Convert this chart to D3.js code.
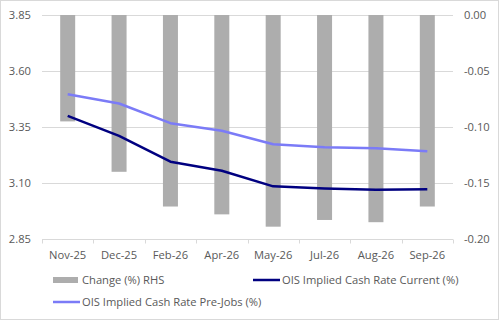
<!DOCTYPE html>
<html>
<head>
<meta charset="utf-8">
<script src="https://cdn.jsdelivr.net/npm/d3@7"></script>
<style>
  html, body { margin: 0; padding: 0; background: #fff; }
  svg text { font-family: "Open Sans", "Liberation Sans", sans-serif; font-size: 11.2px; fill: #595959; }
</style>
</head>
<body>
<div id="chart"></div>
<script>
// months on the category axis
var months = ["Nov-25", "Dec-25", "Feb-26", "Apr-26", "May-26", "Jul-26", "Aug-26", "Sep-26"];
// OIS implied cash rate, current pricing (%)
var current = [3.40, 3.31, 3.195, 3.155, 3.085, 3.075, 3.07, 3.072];
// OIS implied cash rate before the jobs data (%)
var preJobs = [3.496, 3.455, 3.367, 3.333, 3.273, 3.26, 3.255, 3.242];
// change between the two, plotted on the right axis
var change = [-0.095, -0.14, -0.171, -0.178, -0.189, -0.183, -0.185, -0.171];

var leftTicks = [2.85, 3.10, 3.35, 3.60, 3.85];
var rightTicks = [-0.20, -0.15, -0.10, -0.05, 0.00];

var width = 499, height = 321;
var margin = {top: 15, right: 46, bottom: 82, left: 42};

var svg = d3.select("#chart").append("svg")
    .attr("width", width)
    .attr("height", height);

// outer chart border
svg.append("rect")
    .attr("x", 0.5).attr("y", 0.5)
    .attr("width", width - 1).attr("height", height - 2)
    .attr("fill", "#fff")
    .attr("stroke", "#d9d9d9");

var x = d3.scaleBand()
    .domain(months)
    .range([margin.left, width - margin.right]);

var yL = d3.scaleLinear()
    .domain([2.85, 3.85])
    .range([height - margin.bottom, margin.top]);

var yR = d3.scaleLinear()
    .domain([-0.20, 0.00])
    .range([height - margin.bottom, margin.top]);

// gridlines
svg.append("g")
    .selectAll("line")
    .data(leftTicks.slice(1))
    .join("line")
    .attr("x1", margin.left).attr("x2", width - margin.right)
    .attr("y1", d => Math.round(yL(d)) + 0.5)
    .attr("y2", d => Math.round(yL(d)) + 0.5)
    .attr("stroke", "#d9d9d9");

// change bars hang from zero on the right axis
var barW = 15;
svg.append("g")
    .selectAll("rect")
    .data(change)
    .join("rect")
    .attr("x", (d, i) => x(months[i]) + x.bandwidth() / 2 - barW / 2)
    .attr("y", yR(0))
    .attr("width", barW)
    .attr("height", d => yR(d) - yR(0))
    .attr("fill", "#adadad");

// category axis
var xAxis = svg.append("g")
    .attr("transform", "translate(0," + (Math.round(yL(2.85)) + 0.5) + ")");
xAxis.append("line")
    .attr("x1", margin.left).attr("x2", width - margin.right)
    .attr("stroke", "#d9d9d9");
xAxis.selectAll(".tick")
    .data(months.concat([null]))
    .join("line")
    .attr("x1", (d, i) => Math.round(margin.left + i * x.step()) + 0.5)
    .attr("x2", (d, i) => Math.round(margin.left + i * x.step()) + 0.5)
    .attr("y1", 0).attr("y2", 4)
    .attr("stroke", "#d9d9d9");
xAxis.selectAll("text")
    .data(months)
    .join("text")
    .attr("x", d => x(d) + x.bandwidth() / 2)
    .attr("y", 19)
    .attr("text-anchor", "middle")
    .text(d => d);

// left axis labels
svg.append("g")
    .selectAll("text")
    .data(leftTicks)
    .join("text")
    .attr("x", 31)
    .attr("y", d => yL(d) + 4)
    .attr("text-anchor", "end")
    .text(d => d3.format(".2f")(d));

// right axis labels
svg.append("g")
    .selectAll("text")
    .data(rightTicks)
    .join("text")
    .attr("x", 464)
    .attr("y", d => yR(d) + 4)
    .attr("text-anchor", "start")
    .text(d => d3.format(".2f")(d).replace("−", "-"));

var line = d3.line()
    .x((d, i) => x(months[i]) + x.bandwidth() / 2)
    .y(d => yL(d));

svg.append("path")
    .datum(preJobs)
    .attr("d", line)
    .attr("fill", "none")
    .attr("stroke", "#7b7bf7")
    .attr("stroke-width", 2.5)
    .attr("stroke-linejoin", "round");

svg.append("path")
    .datum(current)
    .attr("d", line)
    .attr("fill", "none")
    .attr("stroke", "#000080")
    .attr("stroke-width", 2.5)
    .attr("stroke-linejoin", "round");

// legend
var legend = svg.append("g");
var items = [
  {label: "Change (%) RHS", type: "bar", color: "#adadad", x: 53, y: 280},
  {label: "OIS Implied Cash Rate Current (%)", type: "line", color: "#000080", x: 253, y: 280},
  {label: "OIS Implied Cash Rate Pre-Jobs (%)", type: "line", color: "#7b7bf7", x: 53, y: 302}
];
items.forEach(function(it) {
  if (it.type === "bar") {
    legend.append("rect")
      .attr("x", it.x).attr("y", it.y - 3)
      .attr("width", 25).attr("height", 6)
      .attr("fill", it.color);
  } else {
    legend.append("line")
      .attr("x1", it.x).attr("x2", it.x + 27)
      .attr("y1", it.y).attr("y2", it.y)
      .attr("stroke", it.color)
      .attr("stroke-width", 2.5);
  }
  legend.append("text")
    .attr("x", it.x + 29)
    .attr("y", it.y + 4)
    .text(it.label);
});
</script>
</body>
</html>
